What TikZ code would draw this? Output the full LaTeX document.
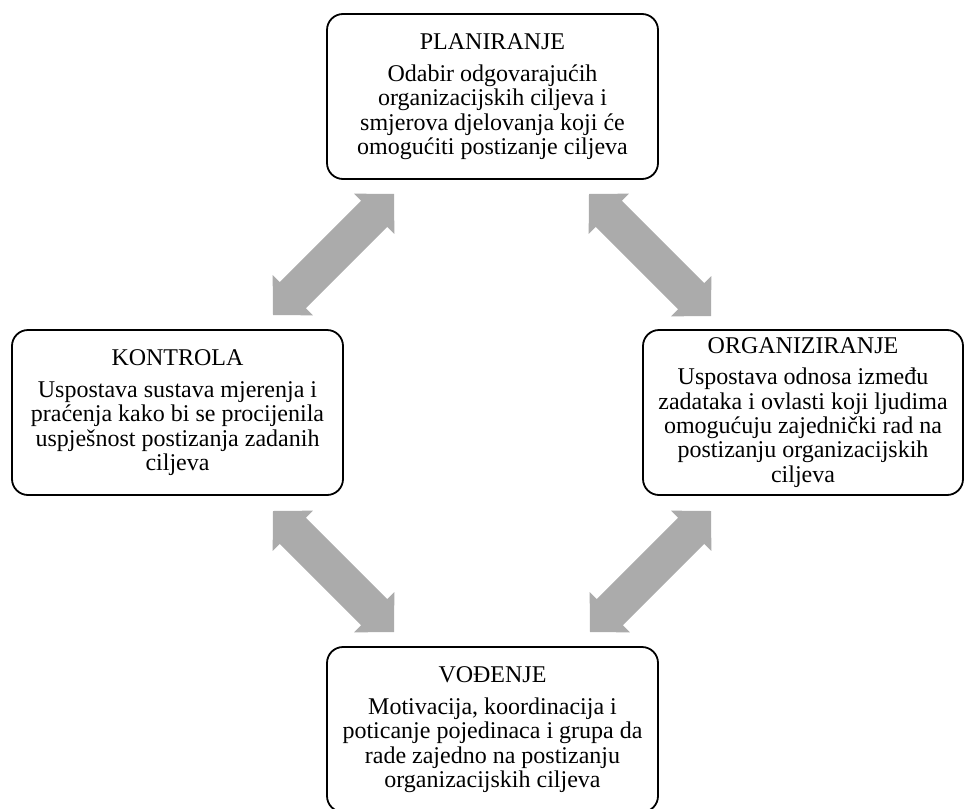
\documentclass[tikz,border=0pt]{standalone}
\usepackage{fontspec}
\setmainfont{Liberation Serif}
\usetikzlibrary{calc}
\definecolor{arrgray}{RGB}{171,171,171}
\tikzset{
  box/.style={draw=black, line width=1.8pt, rounded corners=16pt,
    minimum width=331pt, minimum height=165pt, align=center, inner sep=0pt,
    font=\fontsize{24}{24.3}\selectfont},
  arrfill/.style={fill=arrgray}
}
\newcommand\blockarrow[2]{%
  \fill[arrfill] let \p1=(#1), \p2=(#2),
    \n1={atan2(\y2-\y1,\x2-\x1)}, \n2={veclen(\x2-\x1,\y2-\y1)}, \n3={\n2-28pt} in
    [shift={(\p1)}, rotate=\n1]
    (0pt,0pt) -- (28pt,28.5pt) -- (28pt,18.5pt) -- (\n3,18.5pt) -- (\n3,28.5pt)
    -- (\n2,0pt) -- (\n3,-28.5pt) -- (\n3,-18.5pt) -- (28pt,-18.5pt)
    -- (28pt,-28.5pt) -- cycle;}
\begin{document}
\begin{tikzpicture}[x=1pt,y=-1pt]
\useasboundingbox (0,0) rectangle (965,808);
\node[box] (pl) at (492.5,96.5) {PLANIRANJE\\[8pt]Odabir odgovarajućih\\organizacijskih ciljeva i\\smjerova djelovanja koji će\\omogućiti postizanje ciljeva};
\node[box] (ko) at (177.5,412.5) {KONTROLA\\[8pt]Uspostava sustava mjerenja i\\praćenja kako bi se procijenila\\uspješnost postizanja zadanih\\ciljeva};
\node[box, minimum width=320pt] (or) at (803,412.5) {ORGANIZIRANJE\\[7pt]Uspostava odnosa između\\zadataka i ovlasti koji ljudima\\omogućuju zajednički rad na\\postizanju organizacijskih\\ciljeva};
\node[box] (vo) at (492.5,729.5) {VOĐENJE\\[8pt]Motivacija, koordinacija i\\poticanje pojedinaca i grupa da\\rade zajedno na postizanju\\organizacijskih ciljeva};
\coordinate (a1s) at (273,315); \coordinate (a1e) at (394,194);
\coordinate (a2s) at (589,194); \coordinate (a2e) at (711,316);
\coordinate (a3s) at (273,511); \coordinate (a3e) at (394,632);
\coordinate (a4s) at (711,511); \coordinate (a4e) at (590,632);
\blockarrow{a1s}{a1e}
\blockarrow{a2s}{a2e}
\blockarrow{a3s}{a3e}
\blockarrow{a4s}{a4e}
\end{tikzpicture}
\end{document}
